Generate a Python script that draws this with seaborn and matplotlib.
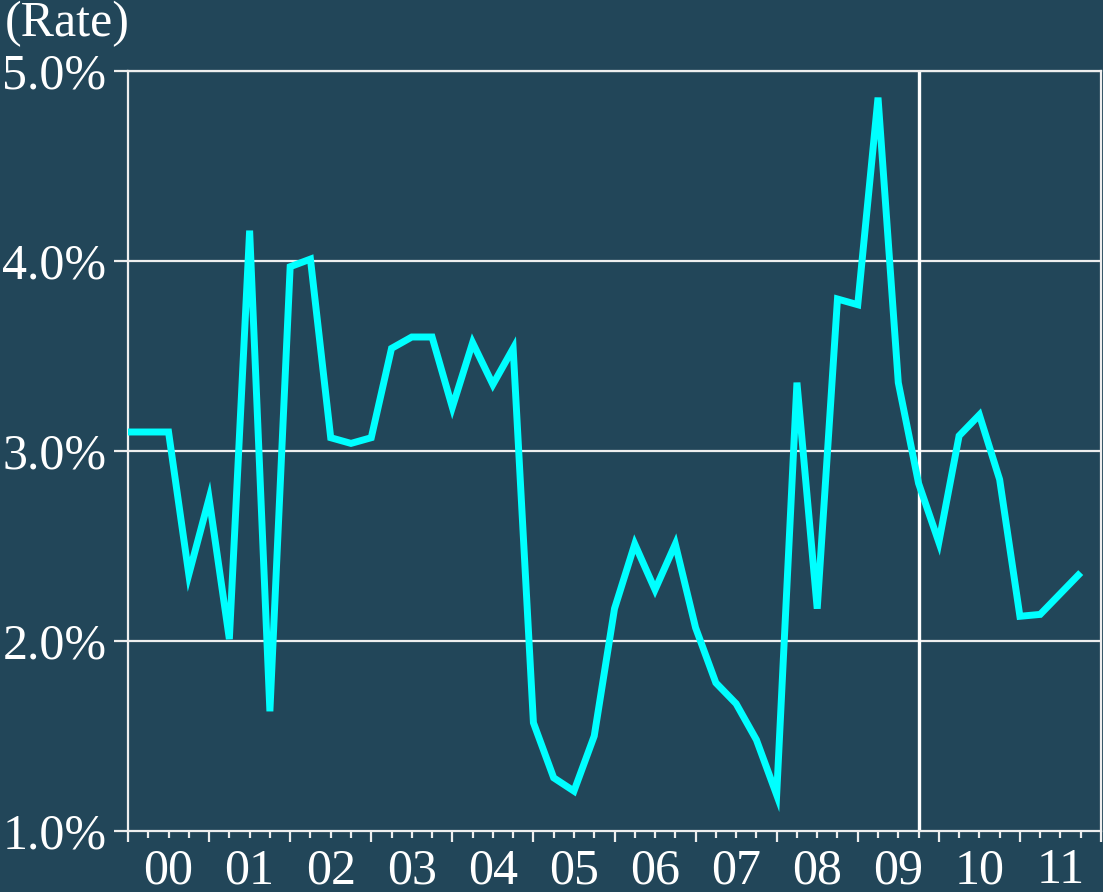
import numpy as np
import pandas as pd
import matplotlib
matplotlib.use("Agg")
import matplotlib.pyplot as plt
import seaborn as sns

# Quarterly rate, 2000 Q1 .. 2011 Q4 (percent)
rate = [
    3.10, 3.10, 3.10, 2.35,   # 2000
    2.75, 2.01, 4.16, 1.63,   # 2001
    3.97, 4.01, 3.07, 3.04,   # 2002
    3.07, 3.54, 3.60, 3.60,   # 2003
    3.23, 3.57, 3.35, 3.54,   # 2004
    1.57, 1.28, 1.21, 1.50,   # 2005
    2.17, 2.51, 2.27, 2.51,   # 2006
    2.07, 1.78, 1.67, 1.48,   # 2007
    1.19, 3.36, 2.17, 3.80,   # 2008
    3.77, 4.86, 3.36, 2.83,   # 2009
    2.52, 3.08, 3.19, 2.85,   # 2010
    2.13, 2.14, 2.25, 2.36,   # 2011
]
first_year = 2000
year_labels = ["00", "01", "02", "03", "04", "05", "06", "07", "08", "09", "10", "11"]
y_ticks = [1.0, 2.0, 3.0, 4.0, 5.0]
y_tick_labels = ["1.0%", "2.0%", "3.0%", "4.0%", "5.0%"]
marker_date = 2009.75   # vertical reference line

BG = "#224659"
LINE = "#00ffff"
WHITE = "#ffffff"
GRID = "#eeeeee"

df = pd.DataFrame({
    "date": first_year + np.arange(len(rate)) / 4.0,
    "rate": rate,
})

sns.set_theme(style="white")
plt.rcParams["font.family"] = ["Liberation Serif", "DejaVu Serif"]
plt.rcParams["font.size"] = 36

fig = plt.figure(figsize=(11.03, 8.92), dpi=100, facecolor=BG)
ax = fig.add_axes([128 / 1103, 61 / 892, (1101 - 128) / 1103, (831 - 71) / 892])
ax.set_facecolor(BG)

n_years = len(year_labels)
x0, x1 = first_year, first_year + n_years
ax.set_xlim(x0, x1)
ax.set_ylim(y_ticks[0], y_ticks[-1])

# horizontal grid
for yv in y_ticks[1:]:
    ax.axhline(yv, color=GRID, lw=1.6, zorder=1)

ax.axvline(marker_date, color=WHITE, lw=2.4, zorder=1)

sns.lineplot(data=df, x="date", y="rate", ax=ax, color=LINE, lw=5.0,
             solid_joinstyle="miter", solid_capstyle="butt", zorder=3)

ax.set_xlabel("")
ax.set_ylabel("")

for side in ["left", "bottom", "right", "top"]:
    ax.spines[side].set_color(GRID)
    ax.spines[side].set_linewidth(1.6)

# y axis
ax.set_yticks(y_ticks)
ax.set_yticklabels(y_tick_labels)
ax.tick_params(axis="y", which="major", direction="out", length=10, width=1.6,
               color=GRID, pad=5.5, labelcolor=WHITE, labelsize=36, left=True)

# x axis: long ticks at year boundaries, short ticks at quarters
years = np.arange(x0, x1 + 1)
quarters = np.array([y + q / 4 for y in range(x0, x1) for q in (1, 2, 3)])
ax.set_xticks(years)
ax.set_xticks(quarters, minor=True)
ax.set_xticklabels([])
ax.tick_params(axis="x", which="major", direction="out", length=8, width=1.6,
               color=GRID, bottom=True)
ax.tick_params(axis="x", which="minor", direction="out", length=5, width=1.6,
               color=GRID, bottom=True)

# year labels centred inside each year
sec = ax.secondary_xaxis("bottom")
sec.set_xticks(np.arange(x0, x1) + 0.5)
sec.set_xticklabels(year_labels)
sec.tick_params(length=0, pad=12, labelcolor=WHITE, labelsize=36)
sec.spines["bottom"].set_visible(False)

fig.text(5 / 1103, 1 - 1 / 892, "(Rate)", color=WHITE, fontsize=36,
         ha="left", va="top")

fig.savefig("out.png", dpi=100, facecolor=BG)
